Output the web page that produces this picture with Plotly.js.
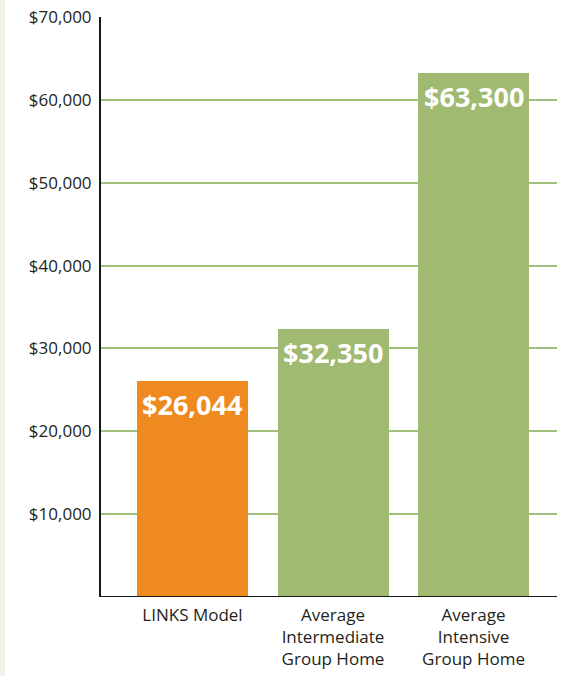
<!DOCTYPE html>
<html>
<head>
<meta charset="utf-8">
<script src="https://cdn.plot.ly/plotly-3.0.1.min.js"></script>
<style>
html,body{margin:0;padding:0;width:567px;height:676px;overflow:hidden;
background:linear-gradient(to right,#f0f3e6 0px,#f0f3e6 5px,#ffffff 5px);}
#chart{width:567px;height:676px;}
</style>
</head>
<body>
<div id="chart"></div>
<script>
const categories = ["LINKS Model", "Average<br>Intermediate<br>Group Home", "Average<br>Intensive<br>Group Home"];
const costs = [26044, 32350, 63300];
const barLabels = ["$26,044", "$32,350", "$63,300"];
const barColors = ["#ee8a1f", "#a0ba72", "#a0ba72"];
const tickValues = [10000, 20000, 30000, 40000, 50000, 60000, 70000];
const tickLabels = ["$10,000", "$20,000", "$30,000", "$40,000", "$50,000", "$60,000", "$70,000"];

const trace = {
  type: "bar",
  x: [0, 1, 2],
  y: costs,
  width: 0.79,
  marker: {color: barColors, line: {width: 0}},
  hoverinfo: "none"
};

const annotations = costs.map((v, i) => ({
  x: i, y: v, xref: "x", yref: "y",
  text: barLabels[i], showarrow: false,
  yanchor: "top", xanchor: "center", yshift: -3,
  font: {family: "Open Sans, sans-serif", size: 27, color: "#ffffff", weight: 700}
}));

const layout = {
  width: 567, height: 676,
  margin: {l: 101, r: 10, t: 17, b: 79, pad: 0},
  paper_bgcolor: "rgba(0,0,0,0)",
  plot_bgcolor: "rgba(0,0,0,0)",
  showlegend: false,
  bargap: 0,
  xaxis: {
    range: [-0.651, 2.594],
    tickvals: [0, 1, 2],
    ticktext: categories,
    showgrid: false, zeroline: false,
    showline: false, ticks: "",
    ticklabelstandoff: 6,
    tickfont: {family: "Open Sans, sans-serif", size: 17, color: "#231f20"},
    fixedrange: true
  },
  yaxis: {
    range: [0, 70000],
    tickvals: tickValues,
    ticktext: tickLabels,
    showgrid: true, gridcolor: "#a3bf7c", gridwidth: 2,
    zeroline: false,
    showline: true, linecolor: "#1a1a1a", linewidth: 2,
    ticks: "", ticklabelstandoff: 4,
    tickfont: {family: "Open Sans, sans-serif", size: 17, color: "#231f20"},
    fixedrange: true
  },
  shapes: [{
    type: "line", xref: "paper", yref: "y",
    x0: -0.002, x1: 1, y0: 0, y1: 0,
    line: {color: "#1a1a1a", width: 2}, layer: "above"
  }],
  annotations: annotations
};

Plotly.newPlot("chart", [trace], layout, {displayModeBar: false, staticPlot: true});
</script>
</body>
</html>
